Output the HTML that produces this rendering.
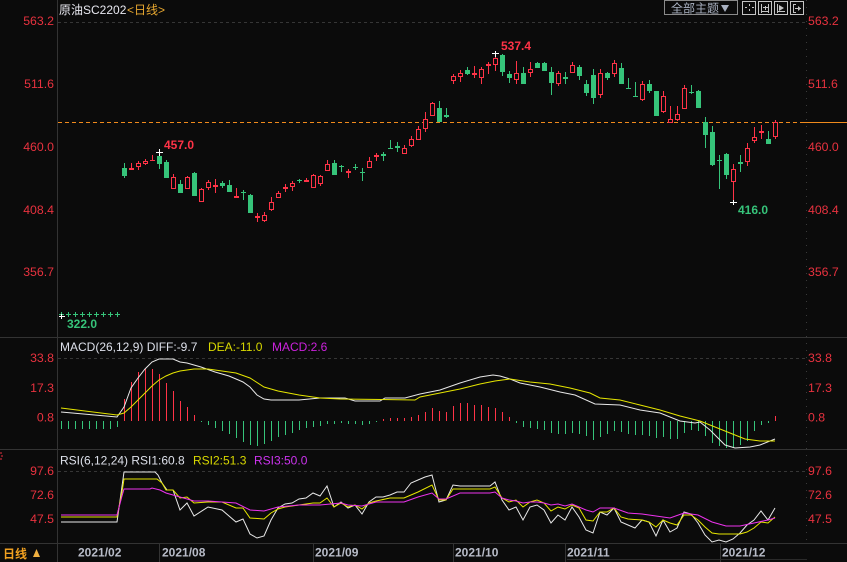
<!DOCTYPE html>
<html><head><meta charset="utf-8"><style>
html,body{margin:0;padding:0;background:#0b0b0b;}
svg{display:block;}
text{font-family:"Liberation Sans","Noto Sans CJK SC",sans-serif;}
</style></head><body>
<svg width="847" height="562" viewBox="0 0 847 562" xmlns="http://www.w3.org/2000/svg">
<rect x="0" y="0" width="847" height="562" fill="#0b0b0b"/>
<!-- separators -->
<g stroke="#333" stroke-width="1" fill="none">
<path d="M57.5 0V562"/>
<path d="M0 337.5H847M0 449.5H847M0 543.5H847"/>
<path d="M159.5 543V562M313.5 543V562M453.5 543V562M565.5 543V562M720.5 543V562"/>
</g>
<path d="M567 559.5H807" stroke="#2a2a2a"/>
<path d="M806.5 0V543" stroke="#3a3a3a" stroke-dasharray="1 6"/>
<!-- grid dashed -->
<g stroke="#363636" stroke-dasharray="3 3">
<path d="M58 22.5H806M58 358.5H806M58 471.5H806"/>
</g>
<!-- orange last price line -->
<path d="M58 122.5H803" stroke="#f08a1c" stroke-dasharray="4 3"/>
<path d="M803 122.5H847" stroke="#f08a1c"/>

<!-- header -->
<text x="59" y="14" font-size="12" fill="#e8e8f0">原油SC2202</text>
<text x="127" y="14" font-size="12" fill="#e8a830">&lt;日线&gt;</text>
<rect x="664.5" y="0.5" width="73" height="14" fill="none" stroke="#8a8a8a"/>
<text x="671" y="12.5" font-size="12" fill="#a8b0c0">全部主题</text>
<polygon points="721,5 729,5 725,12" fill="#a8b0c0"/>
<g stroke="#c4c4c4" fill="none">
<rect x="742.5" y="1.5" width="13" height="13"/>
<rect x="758.5" y="1.5" width="13" height="13"/>
<rect x="774.5" y="1.5" width="13" height="13"/>
<rect x="790.5" y="1.5" width="13" height="13"/>
<path d="M749.5 4v2M749.5 9v2M745 7.5h2M752 7.5h2"/>
<path d="M761.5 4v9M768.5 4v9M761 11.5h8M765.5 6v4M763 7.5h5"/>
<path d="M777.5 4v9M777 11.5h8"/>
<path d="M793.5 4v9M793 4.5h3M793 12.5h3M795 8.5h6"/>
</g>
<polygon points="779,5 784,8 779,11" fill="#c4c4c4"/>
<polygon points="798,6 801,8.5 798,11" fill="#c4c4c4"/>

<!-- axis labels main -->
<g font-size="12.3" fill="#e8323f">
<text x="54" y="25" text-anchor="end">563.2</text>
<text x="54" y="88" text-anchor="end">511.6</text>
<text x="54" y="151" text-anchor="end">460.0</text>
<text x="54" y="214" text-anchor="end">408.4</text>
<text x="54" y="276" text-anchor="end">356.7</text>
<text x="808" y="25">563.2</text>
<text x="808" y="88">511.6</text>
<text x="808" y="151">460.0</text>
<text x="808" y="214">408.4</text>
<text x="808" y="276">356.7</text>
<text x="54" y="362" text-anchor="end">33.8</text>
<text x="54" y="392" text-anchor="end">17.3</text>
<text x="54" y="421.5" text-anchor="end">0.8</text>
<text x="808" y="362">33.8</text>
<text x="808" y="392">17.3</text>
<text x="808" y="421.5">0.8</text>
<text x="54" y="475" text-anchor="end">97.6</text>
<text x="54" y="499" text-anchor="end">72.6</text>
<text x="54" y="523" text-anchor="end">47.5</text>
<text x="808" y="475">97.6</text>
<text x="808" y="499">72.6</text>
<text x="808" y="523">47.5</text>
</g>
<path d="M0 453h2M1 456h2M0 459h2" stroke="#e8323f"/>

<!-- flat crosses -->
<path d="M59 314.5h5M61.5 312v5M66 314.5h5M68.5 312v5M73 314.5h5M75.5 312v5M80 314.5h5M82.5 312v5M87 314.5h5M89.5 312v5M94 314.5h5M96.5 312v5M101 314.5h5M103.5 312v5M108 314.5h5M110.5 312v5M115 314.5h5M117.5 312v5" stroke="#36c47a"/>

<!-- green candles -->
<path stroke="#36c47a" d="M124.5 163V178M159.5 150V169M166.5 160V178M180.5 180V193M194.5 172V196M222.5 181V188M229.5 180V192M243.5 190V200M250.5 194V213M299.5 179V183M334.5 160V175M341.5 165V172M355.5 164V170M362.5 168V181M383.5 152V161M390.5 140V149M397.5 142V152M439.5 101V122M446.5 108V118M467.5 67V75M502.5 54V76M509.5 71V83M523.5 67V84M537.5 62V68M544.5 62V71M551.5 67V95M565.5 72V84M579.5 65V80M586.5 80V96M593.5 69V104M607.5 72V80M621.5 63V84M628.5 78V89M635.5 82V97M649.5 80V93M656.5 91V116M691.5 85V94M698.5 90V108M705.5 117V148M712.5 126V166M719.5 155V189M726.5 153V179M740.5 155V172M768.5 131V144"/>
<g fill="#36c47a">
<rect x="122" y="168" width="5" height="8"/><rect x="157" y="156" width="5" height="8"/><rect x="164" y="162" width="5" height="16"/><rect x="178" y="184" width="5" height="9"/><rect x="192" y="173" width="5" height="23"/><rect x="220" y="183" width="5" height="3"/><rect x="227" y="185" width="5" height="7"/><rect x="241" y="192" width="5" height="1"/><rect x="248" y="195" width="5" height="18"/><rect x="297" y="180" width="5" height="1"/><rect x="332" y="163" width="5" height="12"/><rect x="339" y="166" width="5" height="1"/><rect x="353" y="167" width="5" height="1"/><rect x="360" y="172" width="5" height="1"/><rect x="381" y="154" width="5" height="2"/><rect x="388" y="148" width="5" height="1"/><rect x="395" y="146" width="5" height="2"/><rect x="437" y="108" width="5" height="14"/><rect x="444" y="115" width="5" height="2"/><rect x="465" y="70" width="5" height="4"/><rect x="500" y="55" width="5" height="17"/><rect x="507" y="74" width="5" height="4"/><rect x="521" y="73" width="5" height="11"/><rect x="535" y="63" width="5" height="5"/><rect x="542" y="63" width="5" height="8"/><rect x="549" y="72" width="5" height="11"/><rect x="563" y="77" width="5" height="2"/><rect x="577" y="67" width="5" height="9"/><rect x="584" y="84" width="5" height="9"/><rect x="591" y="75" width="5" height="23"/><rect x="605" y="73" width="5" height="5"/><rect x="619" y="68" width="5" height="16"/><rect x="626" y="88" width="5" height="1"/><rect x="633" y="96" width="5" height="1"/><rect x="647" y="84" width="5" height="7"/><rect x="654" y="91" width="5" height="25"/><rect x="689" y="92" width="5" height="1"/><rect x="696" y="91" width="5" height="17"/><rect x="703" y="122" width="5" height="13"/><rect x="710" y="132" width="5" height="33"/><rect x="717" y="160" width="5" height="1"/><rect x="724" y="154" width="5" height="21"/><rect x="738" y="162" width="5" height="2"/><rect x="766" y="139" width="5" height="5"/>
</g>

<!-- red candles -->
<path stroke="#ff3347" d="M131.5 163V170M138.5 161V170M145.5 159V165M152.5 155V161M173.5 174V189M187.5 176V189M201.5 188V202M208.5 180V190M215.5 179V193M236.5 188V198M257.5 213V222M264.5 212V222M271.5 197V211M278.5 191V198M285.5 184V192M292.5 181V191M306.5 178V182M313.5 174V188M320.5 175V186M327.5 160V171M348.5 169V178M369.5 157V168M376.5 153V161M404.5 145V154M411.5 136V147M418.5 126V140M425.5 112V132M432.5 102V116M453.5 74V84M460.5 70V82M474.5 66V78M481.5 67V84M488.5 62V74M495.5 55V71M516.5 61V84M530.5 62V77M558.5 71V86M572.5 62V73M600.5 69V98M614.5 60V77M642.5 81V101M663.5 91V113M670.5 106V123M677.5 106V121M684.5 85V109M733.5 164V202M747.5 143V166M754.5 127V143M761.5 125V139M775.5 120V139"/>
<g fill="#0b0b0b" stroke="#ff3347">
<rect x="136.5" y="163.5" width="4" height="3"/><rect x="143.5" y="161.5" width="4" height="2"/><rect x="171.5" y="177.5" width="4" height="11"/><rect x="185.5" y="177.5" width="4" height="11"/><rect x="199.5" y="189.5" width="4" height="12"/><rect x="206.5" y="182.5" width="4" height="5"/><rect x="262.5" y="215.5" width="4" height="5"/><rect x="269.5" y="202.5" width="4" height="7"/><rect x="276.5" y="193.5" width="4" height="4"/><rect x="290.5" y="183.5" width="4" height="3"/><rect x="311.5" y="175.5" width="4" height="12"/><rect x="318.5" y="176.5" width="4" height="7"/><rect x="325.5" y="164.5" width="4" height="6"/><rect x="367.5" y="161.5" width="4" height="6"/><rect x="402.5" y="148.5" width="4" height="5"/><rect x="409.5" y="139.5" width="4" height="6"/><rect x="416.5" y="129.5" width="4" height="10"/><rect x="423.5" y="119.5" width="4" height="9"/><rect x="430.5" y="103.5" width="4" height="12"/><rect x="451.5" y="76.5" width="4" height="4"/><rect x="458.5" y="73.5" width="4" height="3"/><rect x="479.5" y="69.5" width="4" height="8"/><rect x="493.5" y="58.5" width="4" height="6"/><rect x="514.5" y="73.5" width="4" height="6"/><rect x="528.5" y="69.5" width="4" height="3"/><rect x="556.5" y="73.5" width="4" height="10"/><rect x="570.5" y="65.5" width="4" height="7"/><rect x="598.5" y="73.5" width="4" height="21"/><rect x="612.5" y="63.5" width="4" height="10"/><rect x="640.5" y="84.5" width="4" height="15"/><rect x="661.5" y="96.5" width="4" height="15"/><rect x="668.5" y="119.5" width="4" height="3"/><rect x="675.5" y="114.5" width="4" height="5"/><rect x="682.5" y="88.5" width="4" height="20"/><rect x="731.5" y="169.5" width="4" height="12"/><rect x="745.5" y="148.5" width="4" height="13"/><rect x="752.5" y="137.5" width="4" height="3"/><rect x="773.5" y="122.5" width="4" height="14"/>
</g>
<g fill="#ff3347">
<rect x="129" y="168" width="5" height="2"/><rect x="150" y="160" width="5" height="1"/><rect x="213" y="185" width="5" height="2"/><rect x="234" y="196" width="5" height="2"/><rect x="255" y="216" width="5" height="2"/><rect x="283" y="187" width="5" height="2"/><rect x="304" y="180" width="5" height="2"/><rect x="346" y="171" width="5" height="2"/><rect x="374" y="155" width="5" height="2"/><rect x="472" y="73" width="5" height="2"/><rect x="486" y="64" width="5" height="2"/><rect x="759" y="131" width="5" height="2"/>
</g>

<!-- markers -->
<path stroke="#ffffff" d="M156 152.5H163M159.5 149V156M492 53.5H499M495.5 51V57M730 202.5H737M733.5 200V205M59 316.5H65M61.5 314V319"/>
<text x="164" y="149" font-size="12" font-weight="bold" fill="#ff3347">457.0</text>
<text x="501" y="50" font-size="12" font-weight="bold" fill="#ff3347">537.4</text>
<text x="738" y="214" font-size="12" font-weight="bold" fill="#36c47a">416.0</text>
<text x="67" y="328" font-size="12" font-weight="bold" fill="#36c47a">322.0</text>

<!-- MACD panel -->
<text x="60" y="351" font-size="12" fill="#dde0ea">MACD(26,12,9) DIFF:-9.7</text>
<text x="208" y="351" font-size="12" fill="#d8d800">DEA:-11.0</text>
<text x="272" y="351" font-size="12" fill="#cc22dd">MACD:2.6</text>
<path stroke="#ff3347" d="M124.5 421V399M131.5 421V382M138.5 421V372M145.5 421V369M152.5 421V369M159.5 421V374M166.5 421V383M173.5 421V391M180.5 421V401M187.5 421V407M194.5 421V415M383.5 421V419M390.5 421V418M397.5 421V418M404.5 421V418M411.5 421V417M418.5 421V415M425.5 421V412M432.5 421V408M439.5 421V411M446.5 421V412M453.5 421V406M460.5 421V403M467.5 421V403M474.5 421V405M481.5 421V405M488.5 421V407M495.5 421V408M502.5 421V412M509.5 421V417M775.5 421V416"/>
<path stroke="#36c47a" d="M61.5 421V429M68.5 421V429M75.5 421V429M82.5 421V429M89.5 421V429M96.5 421V429M103.5 421V429M110.5 421V429M117.5 421V427M201.5 421V422M208.5 421V425M215.5 421V428M222.5 421V431M229.5 421V434M236.5 421V438M243.5 421V442M250.5 421V445M257.5 421V446M264.5 421V444M271.5 421V441M278.5 421V437M285.5 421V435M292.5 421V433M299.5 421V430M306.5 421V428M313.5 421V427M320.5 421V426M327.5 421V424M334.5 421V424M341.5 421V423M348.5 421V424M355.5 421V424M362.5 421V425M369.5 421V424M376.5 421V422M516.5 421V423M523.5 421V427M530.5 421V428M537.5 421V429M544.5 421V430M551.5 421V433M558.5 421V434M565.5 421V434M572.5 421V433M579.5 421V434M586.5 421V436M593.5 421V440M600.5 421V437M607.5 421V434M614.5 421V431M621.5 421V432M628.5 421V434M635.5 421V435M642.5 421V435M649.5 421V436M656.5 421V438M663.5 421V437M670.5 421V439M677.5 421V439M684.5 421V433M691.5 421V430M698.5 421V431M705.5 421V436M712.5 421V443M719.5 421V446M726.5 421V448M733.5 421V448M740.5 421V445M747.5 421V441M754.5 421V431M761.5 421V425M768.5 421V423"/>
<polyline fill="none" stroke="#e8e8e8" points="61,412 117,417 124,407 131,388 138,378 145,369 152,362 159,359 173,359 180,362 187,363 194,365 201,367 215,372 229,376 243,382 250,387 257,395 264,399 271,400 285,400 299,400 320,398 345,398 355,401 380,401 385,398 405,398 420,394 440,390 460,383 480,377 493,375 500,376 510,379 520,383 540,387 560,392 575,395 595,404 620,405 640,410 660,413 680,421 695,423 700,422 710,430 725,445 735,448 750,447 760,445 775,439"/>
<polyline fill="none" stroke="#e6e600" points="61,408 117,415 124,413 131,407 138,400 145,393 152,386 159,380 166,376 173,373 180,371 194,369 208,369 222,371 236,373 250,378 264,387 278,391 299,395 320,398 340,399 415,400 420,397 440,393 460,389 480,384 495,381 510,379 530,382 550,384 570,388 590,393 600,398 620,400 640,405 660,410 680,416 700,421 715,427 730,433 745,439 760,441 775,441"/>

<!-- RSI panel -->
<text x="60" y="464.5" font-size="12" fill="#dde0ea">RSI(6,12,24) RSI1:60.8</text>
<text x="193" y="464.5" font-size="12" fill="#d8d800">RSI2:51.3</text>
<text x="254" y="464.5" font-size="12" fill="#cc33ee">RSI3:50.0</text>
<polyline fill="none" stroke="#e8e8e8" points="61,522 117,522 124,472 155,472 158,475 162,483 167,490 173,490 180,510 187,503 194,516 208,507 222,510 236,522 243,519 250,534 257,538 264,536 271,520 278,508 285,504 292,503 299,499 306,498 313,493 320,496 327,486 334,507 341,502 348,508 355,505 362,514 369,502 376,497 383,497 390,495 397,492 404,492 411,483 418,480 425,477 432,475 439,502 446,500 453,485 460,486 490,486 495,482 502,500 509,510 516,507 523,520 530,507 537,505 544,510 551,523 558,515 565,520 572,507 579,517 586,530 593,533 600,512 607,515 614,508 621,522 628,525 635,528 642,520 649,522 656,536 663,520 670,532 677,528 684,512 691,514 698,523 705,535 712,542 719,540 726,542 733,539 740,533 747,525 754,520 761,511 768,520 775,508"/>
<polyline fill="none" stroke="#e6e600" points="61,517 117,517 122,492 124,479 157,479 162,483 166,490 173,490 180,498 187,497 194,503 208,502 222,502 236,508 243,508 250,518 264,519 271,513 278,509 285,507 299,505 313,503 320,503 327,498 334,507 341,503 348,507 355,505 362,509 369,503 376,501 390,498 404,498 418,492 432,485 439,500 446,500 453,489 490,489 495,487 502,498 509,502 516,500 523,507 530,502 537,500 544,503 551,511 558,507 565,509 572,505 579,508 586,520 593,521 600,512 607,512 614,508 621,517 628,519 642,520 649,522 656,527 663,520 670,523 677,525 684,515 691,515 698,520 705,527 712,533 719,534 740,534 747,532 754,528 761,522 768,523 775,517"/>
<polyline fill="none" stroke="#ee33ee" points="61,515 117,515 122,496 124,489 150,489 152,488 160,490 166,493 180,497 194,501 208,501 222,502 236,503 250,510 264,511 278,507 299,505 320,505 341,503 348,505 362,506 376,502 404,502 418,497 432,493 439,499 446,499 460,493 490,493 495,492 502,498 509,500 516,501 523,503 530,502 537,502 544,503 551,505 558,504 565,506 572,504 579,507 586,510 593,512 600,508 614,508 628,513 642,514 656,516 670,518 684,513 698,515 712,522 726,526 740,526 754,523 768,520 775,518"/>

<!-- bottom axis -->
<text x="3" y="558" font-size="12" font-weight="bold" fill="#f0a020">日线</text>
<polygon points="33,557 40,557 36.5,549" fill="#f0b040"/>
<g font-size="12" font-weight="bold" fill="#b8bcc8">
<text x="78" y="556.5">2021/02</text>
<text x="162" y="556.5">2021/08</text>
<text x="315" y="556.5">2021/09</text>
<text x="455" y="556.5">2021/10</text>
<text x="567" y="556.5">2021/11</text>
<text x="722" y="556.5">2021/12</text>
</g>
</svg>
</body></html>
